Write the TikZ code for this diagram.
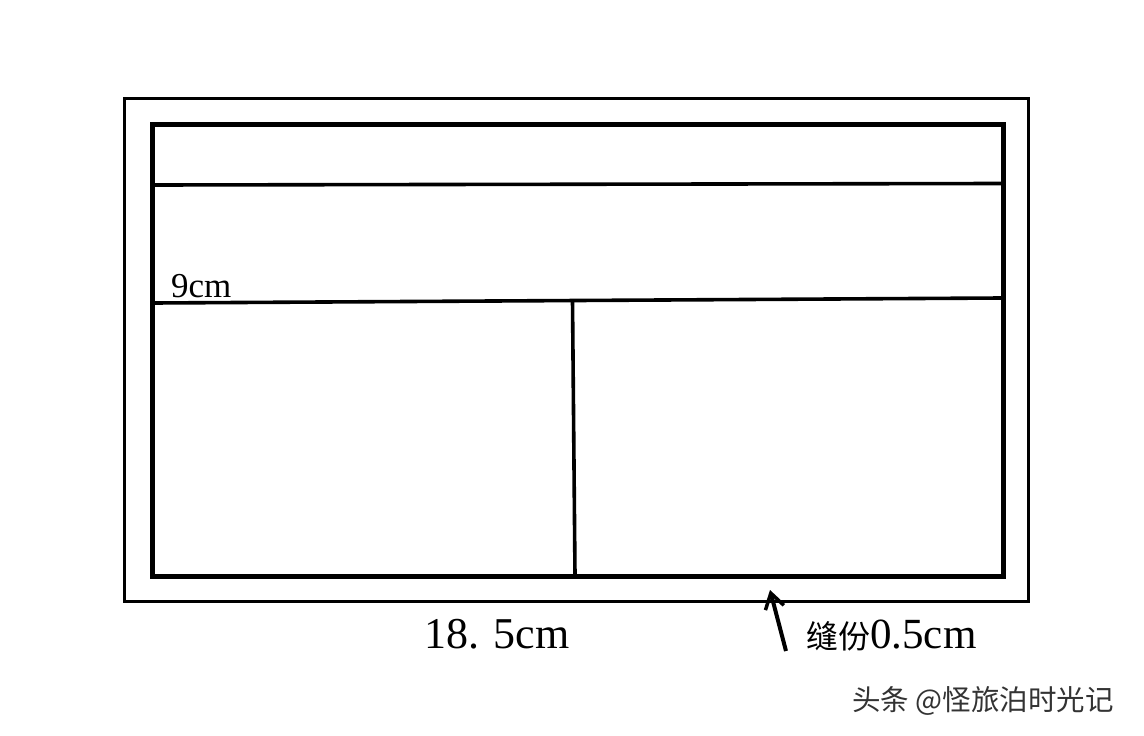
\documentclass[tikz,border=0pt]{standalone}
\usepackage{fontspec}
\setmainfont{Liberation Serif}
\newfontfamily\cjk{Noto Sans CJK SC}
\usetikzlibrary{arrows.meta}
\begin{document}
\begin{tikzpicture}[x=1pt,y=-1pt,
  outerline/.style={line width=2.6pt},
  innerline/.style={line width=5pt},
  seamline/.style={line width=3.6pt},
  lbl/.style={inner sep=0pt, anchor=base west}]
\useasboundingbox[fill=white] (0,0) rectangle (1144,736);
% outer frame (with seam allowance)
\draw[outerline] (124.5,98.5) rectangle (1028.5,601.5);
% inner frame
\draw[innerline] (152,124.5) rectangle (1003,576.5);
% horizontal divisions
\draw[seamline] (154,185) -- (1001,183.5);
\draw[seamline] (154,303) -- (1001,298);
% vertical division
\draw[seamline] (572.5,300.5) -- (575,575);
% labels
\node[lbl, font=\fontsize{35}{35}\selectfont] (nine) at (171,297) {9cm};
\node[lbl, font=\fontsize{44}{44}\selectfont] (width) at (424,648) {18. 5cm};
\node[lbl, font=\fontsize{43}{43}\selectfont] (seam) at (806,648) {{\cjk\fontsize{32}{32}\selectfont 缝份}0.5cm};
% arrow pointing to seam allowance
\coordinate (tail) at (786,651);
\coordinate (head) at (770,590);
\draw[line width=4pt, -{Straight Barb[length=15pt,width=19pt,line width=3.5pt]}] (tail) -- (head);
% watermark
\node[lbl, font=\cjk\fontsize{28.5}{28.5}\selectfont, text=black!80] (wm) at (852,710) {头条 @怪旅泊时光记};
\end{tikzpicture}
\end{document}
